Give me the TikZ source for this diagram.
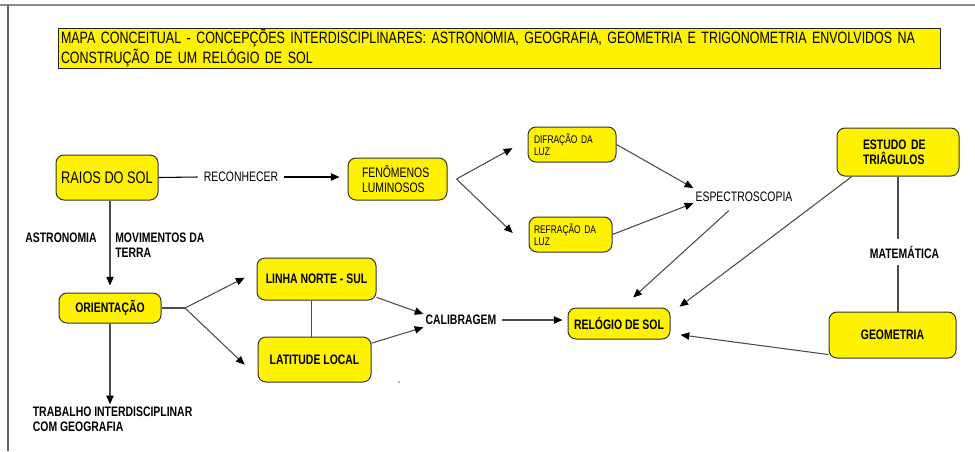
\documentclass[tikz,border=0pt]{standalone}
\usepackage{fontspec}
\setmainfont{Liberation Sans}[FakeStretch=0.76]
\usetikzlibrary{arrows.meta}
\definecolor{mapyellow}{RGB}{255,242,0}
\newcommand{\fsTitle}{\fontsize{12.3}{12}\selectfont}
\newcommand{\fsBig}{\fontsize{12.6}{12}\selectfont}
\newcommand{\fsMid}{\fontsize{10.3}{11.25}\selectfont}
\newcommand{\fsSmall}{\fontsize{8.3}{9}\selectfont}
\begin{document}
\begin{tikzpicture}[x=0.75pt,y=-0.75pt,
  ybox/.style={draw=black!80, fill=mapyellow, rounded corners=6pt, line width=0.75pt, inner sep=0pt},
  tbox/.style={draw=black!85, fill=mapyellow, line width=0.75pt, inner xsep=2.25pt, inner ysep=0pt},
  lbl/.style={inner xsep=1.5pt, inner ysep=1pt, font=\fsMid},
  blbl/.style={lbl, font=\fsMid\bfseries},
  conn/.style={draw=black!70, line width=0.8pt},
  arr/.style={conn, -{Triangle[length=6.5pt,width=5.5pt,color=black]}}]
\useasboundingbox (0,0) rectangle (975,451);

% page frame
\draw[black!45, line width=1.5pt] (0,5) -- (975,5);
\draw[black!60, line width=0.9pt] (8,5) -- (8,451);

% title
\node[tbox, minimum width=661.5pt, minimum height=30pt, text width=657pt, align=left, font=\fsTitle] (title) at (499,48)
  {MAPA CONCEITUAL - CONCEPÇÕES INTERDISCIPLINARES: ASTRONOMIA, GEOGRAFIA, GEOMETRIA E TRIGONOMETRIA ENVOLVIDOS NA\\CONSTRUÇÃO DE UM RELÓGIO DE SOL};

% concept boxes
\node[ybox, minimum width=76.5pt, minimum height=33.75pt, font=\fsBig] (raios) at (107,177.5) {RAIOS DO SOL};
\node[ybox, minimum width=74.25pt, minimum height=31.5pt, inner xsep=10.5pt, text width=53.25pt, align=left, font=\fsMid] (fen) at (397.5,179) {FENÔMENOS\\LUMINOSOS};
\node[ybox, minimum width=66pt, minimum height=26.25pt, inner xsep=4.5pt, text width=57pt, align=left, font=\fsSmall] (difr) at (572,144.5) {DIFRAÇÃO DA\\LUZ};
\node[ybox, minimum width=62.25pt, minimum height=26.25pt, inner xsep=3.75pt, text width=54.75pt, align=left, font=\fsSmall] (refr) at (570.5,234.5) {REFRAÇÃO DA\\LUZ};
\node[ybox, minimum width=91.5pt, minimum height=36pt, inner xsep=19.5pt, text width=52.5pt, align=left, font=\fsMid\bfseries] (estudo) at (898,152) {ESTUDO DE\\TRIÂGULOS};
\node[ybox, minimum width=95.25pt, minimum height=34.5pt, font=\fsMid\bfseries] (geom) at (892.5,335) {GEOMETRIA};
\node[ybox, minimum width=89.25pt, minimum height=31.5pt, font=\fsMid\bfseries] (linha) at (316.5,279) {LINHA NORTE - SUL};
\node[ybox, minimum width=84.75pt, minimum height=33.75pt, font=\fsMid\bfseries] (lat) at (314.5,359.5) {LATITUDE LOCAL};
\node[ybox, minimum width=76.5pt, minimum height=22.5pt, font=\fsMid\bfseries] (orient) at (110,308) {ORIENTAÇÃO};
\node[ybox, minimum width=76.5pt, minimum height=23.25pt, font=\fsMid\bfseries] (relogio) at (619,323.5) {RELÓGIO DE SOL};

% link labels
\node[lbl, inner xsep=4.5pt] (reconhecer) at (241,177) {RECONHECER};
\node[blbl] (astronomia) at (61,238) {ASTRONOMIA};
\node[blbl, anchor=west, inner sep=0pt, align=left] (movimentos) at (115,245.5) {MOVIMENTOS DA\\TERRA};
\node[lbl, minimum height=20pt] (espectro) at (744,197) {ESPECTROSCOPIA};
\node[blbl, minimum height=19.5pt] (matematica) at (904.5,252) {MATEMÁTICA};
\node[blbl, minimum height=12pt] (calibragem) at (461,320) {CALIBRAGEM};
\node[blbl, anchor=west, inner sep=0pt, align=left] (trabalho) at (32.6,419.5) {TRABALHO INTERDISCIPLINAR\\COM GEOGRAFIA};

% branching points
\coordinate (oj) at (185,308);
\coordinate (fj) at ([xshift=6.75pt]fen.east);

% connectors
\draw[conn, draw=black] (raios.east) -- (reconhecer.west);
\draw[arr, draw=black, shorten >=6pt] (reconhecer.east) -- (reconhecer.east -| fen.west);
\draw[arr, shorten >=5.25pt] (raios.south -| orient.north) -- (orient.north);
\draw[arr, shorten >=2pt] (orient.south) -- (orient.south |- trabalho.north);

\draw[conn] (orient.east) -- (oj);
\draw[arr, shorten >=10pt] (oj) -- (linha.173);
\draw[arr, shorten >=13.3pt] (oj) -- (lat.197);
\draw[conn] ([xshift=-4pt]linha.south) -- ([xshift=-4pt]linha.south |- lat.north);

\draw[arr] (linha.-17) -- (calibragem.171);
\draw[arr] (lat.16) -- (calibragem.191);
\draw[arr, shorten <=2.25pt, shorten >=3.75pt] (calibragem.east) -- (calibragem.east -| relogio.west);

\draw[arr, shorten >=12.9pt] (fj) -- (difr.174);
\draw[arr, shorten >=16.4pt] (fj) -- (refr.198);
\draw[arr] (difr.east) -- (espectro.170);
\draw[arr] (refr.east) -- (espectro.187);
\draw[arr, shorten >=11.2pt] (espectro.222) -- (relogio.79);

\draw[arr, shorten >=8.5pt] (estudo.208) -- (relogio.11);
\draw[arr, shorten >=7.6pt] (geom.197) -- (relogio.349);
\draw[conn] (estudo.south) -- (estudo.south |- matematica.north);
\draw[conn] (estudo.south |- matematica.south) -- (estudo.south |- geom.north);

% small mark below the latitude box
\fill[black!55] (399,382) circle (0.6pt);
\end{tikzpicture}
\end{document}
